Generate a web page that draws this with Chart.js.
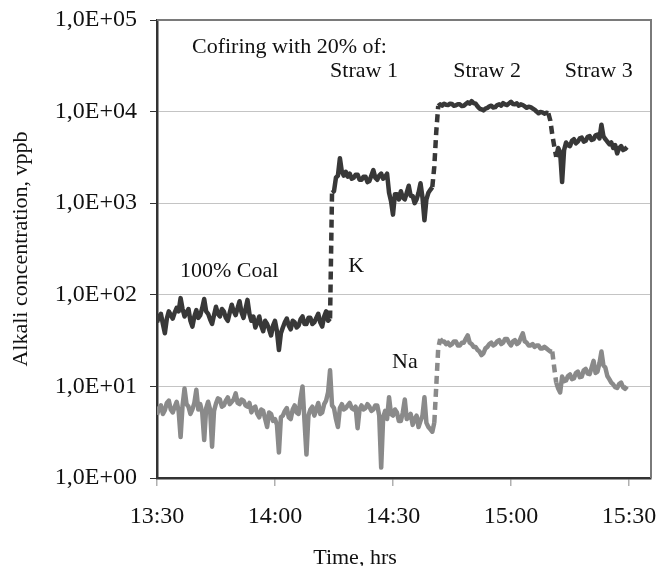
<!DOCTYPE html>
<html><head><meta charset="utf-8">
<script src="https://cdn.jsdelivr.net/npm/chart.js@4.4.1/dist/chart.umd.min.js"></script>
<style>html,body{margin:0;padding:0;background:#fff;}canvas{display:block;}</style>
</head><body>
<canvas id="c" width="659" height="566"></canvas>
<script>
// ---- data (time in minutes after 13:30, one sample every half minute; concentration in vppb) ----
const timeTickValues = [0, 30, 60, 90, 120];
const timeTickLabels = ['13:30', '14:00', '14:30', '15:00', '15:30'];
const decadeTicks = [1, 10, 100, 1000, 10000, 100000];
const decadeLabels = ['1,0E+00', '1,0E+01', '1,0E+02', '1,0E+03', '1,0E+04', '1,0E+05'];

const kValues = [
  50,58,62,48,38,55,66,60,55,64,
  72,66,92,70,58,64,70,52,45,58,
  68,56,60,72,90,66,62,54,48,60,
  74,62,58,70,66,56,52,64,78,66,
  60,72,85,64,56,70,88,62,52,58,
  44,50,58,46,40,52,48,42,36,46,
  52,40,25,38,44,50,55,46,42,52,
  50,44,46,54,58,48,48,56,56,48,
  50,56,62,50,45,58,66,52,55,1300,
  1350,1900,2000,3100,2200,2000,2200,1950,2100,1850,
  1900,2050,2050,1800,1800,1950,1950,1700,1750,2000,
  2300,1900,1800,2000,2100,1850,1950,2100,1300,1050,
  750,1250,1250,1100,1350,1150,1100,1300,1550,1200,
  1200,1000,1100,1300,1650,1150,650,1100,1300,1400,
  1500,2500,6000,11500,12000,11600,12200,11900,11800,12200,
  12100,11600,11700,12000,12000,11500,11600,12100,12600,12200,
  13000,12400,12200,11400,10800,10600,10300,10800,11000,11400,
  11600,11100,11200,11800,12000,11600,12400,12000,11800,12300,
  12800,12100,12000,12300,11600,12000,11800,11400,11000,11300,
  11200,10800,10500,10000,9600,9900,9800,9500,9700,9600,
  8000,5600,4200,3200,4000,3600,1700,3800,4600,4300,
  4200,4800,5000,4500,4700,5100,5200,4700,4800,5300,
  5400,4900,5000,5500,5600,5100,7200,5400,5000,4700,
  4400,4600,4000,4300,3500,4000,4200,3800,3900,4100
];
const naValues = [
  4.9,5.8,6.2,5.0,5.5,6.6,7.0,5.6,5.2,6.0,
  6.8,5.4,2.8,6.2,9.5,6.4,6.0,5.0,5.6,6.6,
  9.2,5.6,6.4,5.2,2.6,5.8,6.8,5.6,2.2,5.4,
  6.5,7.4,7.2,6.0,6.2,7.0,7.6,6.4,6.8,7.2,
  8.4,6.6,6.4,7.2,7.0,6.2,6.0,6.6,5.2,5.8,
  6.0,5.0,4.6,5.6,5.4,4.4,3.6,5.2,5.0,4.2,
  4.4,3.8,1.9,4.6,4.8,5.4,5.8,4.6,4.4,5.6,
  6.2,5.2,5.0,7.4,10.0,4.2,1.8,4.8,5.6,6.0,
  4.8,5.6,6.6,5.0,5.2,6.4,7.0,8.6,15,6.2,
  5.8,4.4,3.6,5.8,6.4,5.6,5.8,6.2,6.6,5.8,
  5.6,6.0,3.5,5.6,6.2,5.6,5.8,6.4,6.0,5.4,
  5.6,6.2,6.2,4.8,1.3,4.6,5.4,4.4,7.6,5.0,
  4.8,5.6,5.2,4.2,4.2,5.2,7.2,4.4,4.6,5.0,
  3.8,4.4,4.8,3.6,4.2,4.8,7.6,4.0,3.6,3.4,
  3.2,4.0,10,26,33,31,31,29,30,28,
  29,31,31,28,28,30,30,33,36,30,
  29,27,27,25,24,22,23,26,27,29,
  30,28,29,31,32,29,30,33,33,30,
  28,31,32,29,30,34,38,31,30,28,
  28,29,27,28,28,26,26,27,26,25,
  24,24,16,11,9.5,8.6,12.8,11.4,11.6,13,
  13.5,12,12.2,14,14.5,12.6,12.8,15,15.5,13.8,
  13.6,16,19,14,14.5,18,24,17,16,13,
  12,11,10.5,9.8,9.6,10.6,11,9.8,9.4,10
];
// segments (by starting sample index) drawn dashed at the fuel changes
const kDashedSegments = [88, 140, 141, 142, 199, 200, 201, 202];
const naDashedSegments = [141, 142, 143, 201, 202];

// sampling grid: one sample every half minute from 13:30
const minutes = kValues.map((_, i) => i / 2);

const annotations = [
  { text: 'Cofiring with 20% of:', t: 8.9, v: 43600 },
  { text: 'Straw 1', t: 44.0, v: 23900 },
  { text: 'Straw 2', t: 75.3, v: 23900 },
  { text: 'Straw 3', t: 103.7, v: 23900 },
  { text: '100% Coal', t: 5.85, v: 156 },
  { text: 'K', t: 48.6, v: 177 },
  { text: 'Na', t: 59.75, v: 15.9 }
];

const SERIF = '"Liberation Serif", "Times New Roman", serif';
const TEXT = '#111';

function series(values, color, dashed) {
  return {
    data: values.map((v, i) => ({ x: minutes[i], y: v })),
    borderColor: color,
    borderWidth: 4.5,
    pointRadius: 0,
    tension: 0,
    borderJoinStyle: 'round',
    segment: {
      borderDash: ctx => dashed.includes(ctx.p0DataIndex) ? [8, 5] : undefined,
      borderCapStyle: ctx => dashed.includes(ctx.p0DataIndex) ? 'butt' : undefined
    }
  };
}

const textPlugin = {
  id: 'textPlugin',
  afterDraw(chart) {
    const { ctx, chartArea: a, scales: { x, y } } = chart;
    ctx.save();
    // frame top and right
    ctx.strokeStyle = '#7a7a7a';
    ctx.lineWidth = 2;
    ctx.beginPath();
    ctx.moveTo(a.left, a.top);
    ctx.lineTo(a.right, a.top);
    ctx.lineTo(a.right, a.bottom);
    ctx.stroke();
    // annotations
    ctx.fillStyle = TEXT;
    ctx.font = '22px ' + SERIF;
    ctx.textAlign = 'left';
    ctx.textBaseline = 'alphabetic';
    annotations.forEach(an => {
      ctx.fillText(an.text, x.getPixelForValue(an.t), y.getPixelForValue(an.v));
    });
    // x axis title
    ctx.textAlign = 'center';
    ctx.fillText('Time, hrs', a.left + 198, chart.height - 2);
    ctx.restore();
  }
};

new Chart(document.getElementById('c'), {
  type: 'line',
  data: {
    datasets: [
      series(kValues, '#383838', kDashedSegments),
      series(naValues, '#8a8a8a', naDashedSegments)
    ]
  },
  options: {
    responsive: false,
    animation: false,
    devicePixelRatio: 1,
    layout: { padding: { top: 20, right: 8, left: 0, bottom: 0 } },
    plugins: { legend: { display: false }, tooltip: { enabled: false } },
    scales: {
      x: {
        type: 'linear',
        min: 0,
        max: 125.6,
        afterBuildTicks: s => { s.ticks = timeTickValues.map(v => ({ value: v })); },
        afterFit: s => { s.height = 88; s.paddingLeft = 0; s.paddingRight = 0; },
        ticks: {
          autoSkip: false,
          maxRotation: 0,
          padding: 16,
          color: TEXT,
          font: { family: SERIF, size: 24 },
          callback: (v) => timeTickLabels[timeTickValues.indexOf(v)]
        },
        grid: { drawOnChartArea: false, tickColor: '#b0b0b0', tickLength: 8, lineWidth: 1.5 },
        border: { color: '#333', width: 2.5 }
      },
      y: {
        type: 'logarithmic',
        min: 1,
        max: 100000,
        afterBuildTicks: s => { s.ticks = decadeTicks.map(v => ({ value: v })); },
        afterFit: s => { s.width = 157; s.paddingTop = 0; s.paddingBottom = 0; },
        ticks: {
          autoSkip: false,
          padding: 13,
          color: TEXT,
          font: { family: SERIF, size: 24 },
          callback: (v) => decadeLabels[decadeTicks.indexOf(v)]
        },
        grid: { color: '#c4c4c4', lineWidth: 1, tickColor: '#333', tickLength: 7 },
        border: { color: '#333', width: 2.5 },
        title: {
          display: true,
          text: 'Alkali concentration, vppb',
          color: TEXT,
          font: { family: SERIF, size: 22 },
          padding: { top: 8, bottom: 0 }
        }
      }
    }
  },
  plugins: [textPlugin]
});
</script>
</body></html>
